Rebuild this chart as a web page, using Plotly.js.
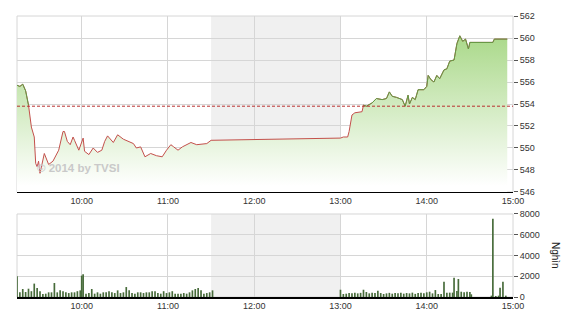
<!DOCTYPE html>
<html><head><meta charset="utf-8">
<script src="https://cdn.plot.ly/plotly-3.0.1.min.js"></script>
<style>html,body{margin:0;padding:0;background:#fff}#c{width:570px;height:320px}</style>
</head><body><div id="c"></div>
<script>
const DAY = '2014-01-01 ';
const refPrice = 553.8;
const breakStart = '11:30', breakEnd = '13:00';
const sessionStart = '09:15', sessionEnd = '15:00';

const priceTimes = ['09:15','09:17','09:19','09:21','09:23','09:25','09:27','09:28','09:29','09:30','09:31','09:34','09:37','09:40','09:44','09:47','09:48','09:50','09:52','09:54','09:55','09:58','10:01','10:02','10:05','10:08','10:11','10:14','10:16','10:18','10:22','10:25','10:29','10:32','10:36','10:38','10:41','10:44','10:48','10:52','10:56','10:59','11:02','11:04','11:07','11:10','11:16','11:20','11:27','11:30','13:00','13:02','13:05','13:06','13:08','13:10','13:15','13:16','13:18','13:22','13:25','13:29','13:32','13:34','13:36','13:39','13:43','13:45','13:47','13:48','13:50','13:52','13:54','13:58','14:00','14:01','14:03','14:05','14:07','14:09','14:12','14:14','14:16','14:19','14:20','14:21','14:23','14:25','14:27','14:29','14:30','14:46','14:47','14:56'];
const priceValues = [555.7,555.6,555.8,555.2,553.9,551.9,551.0,548.6,548.3,548.8,547.7,549.5,548.5,548.8,549.8,551.5,551.5,550.6,550.3,551.0,550.7,549.8,550.9,549.7,549.4,550.0,549.6,549.8,550.6,551.1,550.5,551.2,550.8,550.6,550.4,550.0,550.1,549.2,549.5,549.3,549.2,549.8,550.3,550.1,549.8,550.1,550.5,550.3,550.4,550.7,550.9,551.0,551.0,551.5,553.0,553.2,553.3,553.9,553.8,554.1,554.5,554.4,554.5,555.1,554.7,554.6,554.4,553.8,554.8,554.0,554.6,554.4,555.3,555.3,555.6,556.6,556.2,556.0,556.6,556.3,557.1,557.2,557.9,558.0,558.6,559.5,560.2,559.7,559.9,559.0,559.6,559.6,559.9,559.9];

const volTimes = ['09:15','09:17','09:19','09:21','09:23','09:25','09:27','09:29','09:31','09:33','09:35','09:37','09:39','09:41','09:43','09:45','09:47','09:49','09:51','09:53','09:55','09:57','09:59','10:00','10:01','10:03','10:05','10:07','10:09','10:11','10:13','10:15','10:17','10:19','10:21','10:23','10:25','10:27','10:29','10:31','10:33','10:35','10:37','10:39','10:41','10:43','10:45','10:47','10:49','10:51','10:53','10:55','10:57','10:59','11:01','11:03','11:05','11:07','11:09','11:11','11:13','11:15','11:17','11:19','11:21','11:23','11:25','11:27','11:29','11:31',
'13:00','13:02','13:04','13:06','13:08','13:10','13:12','13:14','13:16','13:18','13:20','13:22','13:24','13:26','13:28','13:30','13:32','13:34','13:36','13:38','13:40','13:42','13:44','13:46','13:48','13:50','13:52','13:54','13:56','13:58','14:00','14:02','14:04','14:06','14:08','14:10','14:12','14:14','14:16','14:18','14:19','14:21','14:22','14:24','14:26','14:28','14:30','14:31','14:45','14:46','14:48','14:50','14:51','14:53','14:55'];
const volValues = [2000,450,770,480,800,560,1290,870,560,300,320,450,450,1350,450,640,560,450,380,450,450,560,640,2060,2190,320,380,770,320,450,320,450,450,560,450,380,640,380,450,960,640,380,320,450,450,380,450,450,560,560,380,320,560,380,450,560,320,320,320,380,320,450,640,770,870,640,320,380,450,640,
700,290,320,380,350,400,350,400,700,480,350,400,380,610,380,290,350,400,320,380,350,420,320,380,350,420,300,380,420,350,450,510,350,670,290,300,1480,420,420,420,1860,580,1735,510,450,510,480,260,130,7550,100,130,900,1480,130];

const ts = t => DAY + t;
const px = priceTimes.map(ts);
const greenY = priceValues.map(v => v >= refPrice ? v : null);

const font = {family:'Liberation Sans, Arial, sans-serif', size:9, color:'#333'};
const grid = '#d6d6d6';

const traces = [
  {x:px, y:priceValues, type:'scatter', mode:'lines', fill:'tozeroy',
   line:{width:0, color:'rgba(0,0,0,0)'},
   fillgradient:{type:'vertical', start:546.5, stop:560.5,
     colorscale:[[0,'rgba(255,255,255,1)'],[1,'rgb(168,216,135)']]},
   hoverinfo:'skip', xaxis:'x', yaxis:'y'},
  {x:px, y:priceValues, type:'scatter', mode:'lines', line:{width:1, color:'#c4504c'}, xaxis:'x', yaxis:'y'},
  {x:px, y:greenY, type:'scatter', mode:'lines', connectgaps:false, line:{width:1, color:'#5f9e45'}, xaxis:'x', yaxis:'y'},
  {x:volTimes.map(ts), y:volValues, type:'bar', marker:{color:'#476b3a', line:{width:0}}, width:70000, xaxis:'x2', yaxis:'y2'}
];

const xcommon = {type:'date', range:[ts(sessionStart), ts(sessionEnd)], tickformat:'%H:%M',
  tick0:ts('10:00'), dtick:3600000, showgrid:true, gridcolor:grid, gridwidth:1,
  showline:true, linecolor:'#000', linewidth:1.5, ticks:'', tickfont:font, zeroline:false, fixedrange:true};

const bandShape = (yr) => ({type:'rect', xref:yr==='y'?'x':'x2', yref:yr+' domain', x0:ts(breakStart), x1:ts(breakEnd), y0:0, y1:1,
  fillcolor:'#f0f0f0', line:{width:0}, layer:'below'});
const frame = (xr, yr) => ({type:'rect', xref:xr+' domain', yref:yr+' domain', x0:0, x1:1, y0:0, y1:1,
  line:{color:grid, width:1}, fillcolor:'rgba(0,0,0,0)', layer:'below'});

const layout = {
  width:570, height:320, margin:{l:17, r:57, t:16, b:23},
  paper_bgcolor:'#fff', plot_bgcolor:'#fff', showlegend:false,
  xaxis:Object.assign({}, xcommon, {anchor:'y', domain:[0,1]}),
  xaxis2:Object.assign({}, xcommon, {anchor:'y2', domain:[0,1]}),
  yaxis:{domain:[0.3737,1], side:'right', range:[546,562], tick0:546, dtick:2, gridcolor:grid,
    ticks:'outside', ticklen:4, tickcolor:'#555', tickfont:font, zeroline:false, showline:false, fixedrange:true},
  yaxis2:{domain:[0,0.2954], side:'right', range:[0,8000], tick0:0, dtick:2000, gridcolor:grid,
    ticks:'outside', ticklen:4, tickcolor:'#555', tickfont:font, zeroline:false, showline:false, fixedrange:true},
  shapes:[
    bandShape('y'), bandShape('y2'), frame('x','y'), frame('x2','y2'),
    {type:'line', xref:'x domain', yref:'y', x0:0, x1:1, y0:refPrice, y1:refPrice,
     line:{color:'#b8312f', width:1, dash:'3px,2px'}, layer:'above'}
  ],
  annotations:[
    {text:'© 2014 by TVSI', xref:'x domain', yref:'y domain', x:0.037, y:0.136, xanchor:'left', yanchor:'middle',
     showarrow:false, font:{family:'Liberation Sans, Arial, sans-serif', size:11.5, color:'#c9c9c9', weight:'bold'}},
    {text:'Nghìn', xref:'paper', yref:'paper', x:1.087, y:0.149, xanchor:'center', yanchor:'middle',
     textangle:90, showarrow:false, font:{family:'Liberation Sans, Arial, sans-serif', size:10, color:'#222'}}
  ]
};

Plotly.newPlot('c', traces, layout, {staticPlot:true, displayModeBar:false});
</script></body></html>
